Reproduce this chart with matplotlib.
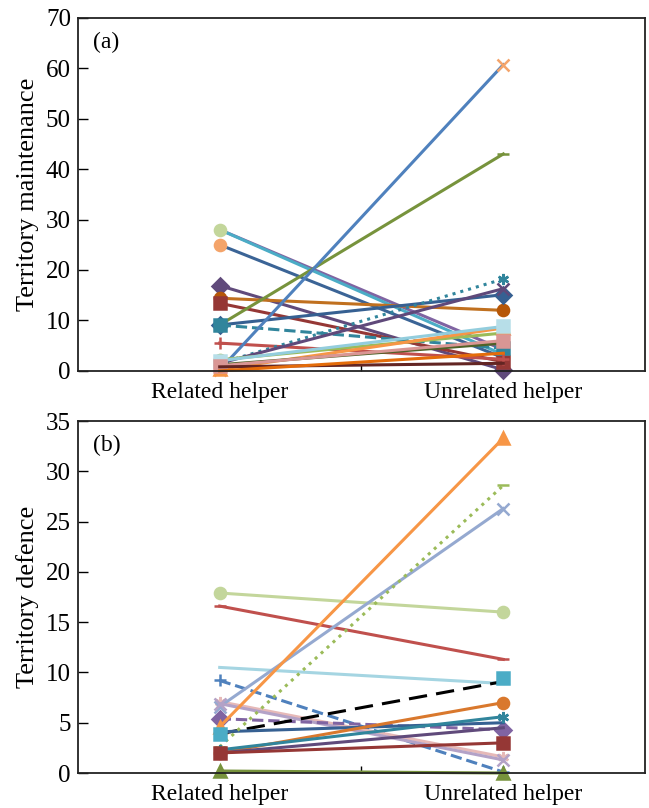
import numpy as np
import matplotlib
matplotlib.use("Agg")
import matplotlib.pyplot as plt

plt.rcParams['font.family'] = ['Liberation Serif', 'DejaVu Serif']

#%% Data

categories = ['Related helper', 'Unrelated helper']

# panel (a) territory maintenance: (related, unrelated) per pair
maint_related = [28.0, 28.0, 25.0, 16.9, 14.4, 13.4, 9.1, 9.1, 9.1, 5.5,
                 0.2, 1.5, 1.5, 2.2, 0.3, 1.2, 2.0, 1.0, 0.8, 0.0]
maint_unrelated = [4.2, 3.2, 2.6, 0.2, 12.0, 1.8, 43.0, 15.1, 4.5, 2.3,
                   60.7, 18.2, 16.3, 7.5, 8.5, 5.5, 8.8, 6.0, 1.5, 3.5]

# panel (b) territory defence
def_related = [17.9, 16.6, 10.5, 9.2, 7.1, 6.6, 6.9, 5.4, 4.6, 3.9,
               4.1, 2.6, 2.0, 2.3, 2.0, 2.0, 0.2, 3.9]
def_unrelated = [16.0, 11.3, 8.9, 0.1, 1.6, 26.3, 1.3, 4.3, 33.3, 9.1,
                 5.0, 28.6, 7.0, 5.6, 4.5, 3.0, 0.0, 9.4]

#%% Styles  (colour, marker, linestyle, marker colour)

ast = (6, 2, 0)
style_a = [
    ('#8064A2', '+', '-', '#8064A2'),
    ('#4BACC6', 'o', '-', '#C3D69B'),
    ('#3B6496', 'o', '-', '#F4A46A'),
    ('#604A7B', 'D', '-', '#604A7B'),
    ('#C0701F', 'o', '-', '#B65708'),
    ('#953735', 's', '-', '#953735'),
    ('#77933C', '_', '-', '#77933C'),
    ('#366092', 'D', '-', '#366092'),
    ('#31859C', 's', '--', '#31859C'),
    ('#C0504D', '+', '-', '#C0504D'),
    ('#4F81BD', 'x', '-', '#F4A46A'),
    ('#31859C', ast, ':', '#31859C'),
    ('#5F497A', 'x', '-', '#5F497A'),
    ('#9BBB59', 'o', '-', '#9BBB59'),
    ('#F79646', '^', '-', '#F79646'),
    ('#4F6228', None, '-', '#4F6228'),
    ('#93CDDD', 's', '-', '#B7DEE8'),
    ('#D99694', 's', '-', '#D99694'),
    ('#632523', None, '-', '#632523'),
    ('#E46C0A', None, '-', '#E46C0A'),
]

style_b = [
    ('#C3D69B', 'o', '-', '#C3D69B'),
    ('#C0504D', '_', '-', '#C0504D'),
    ('#A5D5E2', None, '-', '#A5D5E2'),
    ('#4F81BD', '+', '--', '#4F81BD'),
    ('#E6B9B8', ast, '-', '#E6B9B8'),
    ('#95A9D0', 'x', '-', '#95A9D0'),
    ('#B3A2C7', 'x', '-', '#B3A2C7'),
    ('#8064A2', 'D', '--', '#8064A2'),
    ('#F79646', '^', '-', '#F79646'),
    ('black', None, (0, (6, 3)), 'black'),
    ('#366092', None, '-', '#366092'),
    ('#9BBB59', '_', ':', '#9BBB59'),
    ('#D9782D', 'o', '-', '#D9782D'),
    ('#31859C', ast, '-', '#31859C'),
    ('#604A7B', None, '-', '#604A7B'),
    ('#953735', 's', '-', '#953735'),
    ('#77933C', '^', '-', '#77933C'),
    ('#4BACC6', 's', 'none', '#4BACC6'),
]

#%% Plot

fig = plt.figure(figsize=(6.49, 8.08), dpi=100)
ax1 = fig.add_axes([0.120, 0.541, 0.874, 0.437])
ax2 = fig.add_axes([0.120, 0.0433, 0.874, 0.4356])

x = [1, 2]

def draw(ax, rel, unrel, styles):
    for r, u, (c, m, ls, mc) in zip(rel, unrel, styles):
        ax.plot(x, [r, u], color=c, linestyle=ls, lw=2.2, marker=m,
                markersize=8, markerfacecolor=mc, markeredgecolor=mc,
                markeredgewidth=1.8, clip_on=False)

draw(ax1, maint_related, maint_unrelated, style_a)
draw(ax2, def_related, def_unrelated, style_b)

for ax, ymax, step, lab, tag in [(ax1, 70, 10, 'Territory maintenance', '(a)'),
                                 (ax2, 35, 5, 'Territory defence', '(b)')]:
    ax.set_xlim(0.5, 2.5)
    ax.set_ylim(0, ymax)
    ax.set_yticks(np.arange(0, ymax + 1, step))
    ax.set_xticks(x)
    ax.set_xticklabels(categories)
    ax.set_xticks([1.5], minor=True)
    ax.tick_params(axis='x', which='major', length=0, pad=8, labelsize=17)
    ax.tick_params(axis='x', which='minor', direction='in', length=5, width=1)
    ax.tick_params(axis='y', direction='in', length=7, width=1, labelsize=18, pad=5)
    ax.set_ylabel(lab, fontsize=19, labelpad=5)
    ax.text(0.027, 0.93, tag, transform=ax.transAxes, fontsize=17, va='center')
    for s in ax.spines.values():
        s.set_linewidth(1.3)
        s.set_color('#222222')

fig.savefig('out.png', dpi=100)
